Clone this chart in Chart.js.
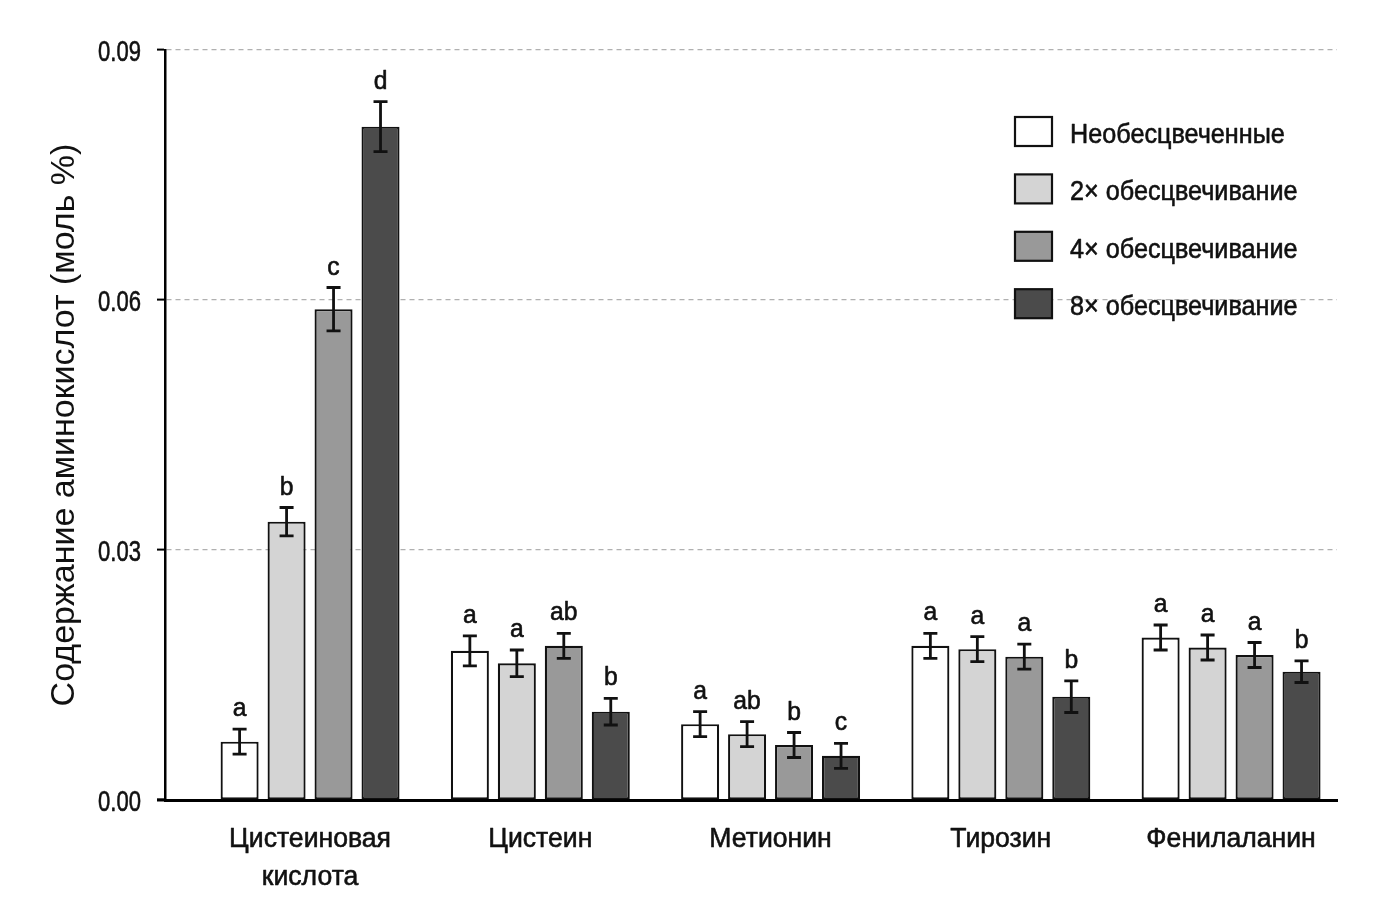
<!DOCTYPE html>
<html lang="ru">
<head>
<meta charset="utf-8">
<title>Содержание аминокислот</title>
<script src="https://cdn.jsdelivr.net/npm/chart.js@4.4.1/dist/chart.umd.min.js"></script>
<style>
html,body{margin:0;padding:0;background:#fff;}
#wrap{width:1394px;height:922px;position:relative;}
</style>
</head>
<body>
<div id="wrap"><canvas id="aminoChart"></canvas></div>
<script>
// категории и серии
const categories=[["Цистеиновая","кислота"],"Цистеин","Метионин","Тирозин","Фенилаланин"];
const seriesNames=["Необесцвеченные","2× обесцвечивание","4× обесцвечивание","8× обесцвечивание"];
const seriesColors=["#ffffff","#d4d4d4","#999999","#4b4b4b"];

const unbleached=[0.0070,0.0179,0.0091,0.0185,0.0195];
const bleach2x=[0.0334,0.0164,0.0079,0.0181,0.0183];
const bleach4x=[0.0589,0.0185,0.0066,0.0172,0.0174];
const bleach8x=[0.0808,0.0106,0.0053,0.0124,0.0154];

const errUnbleached=[0.0015,0.0018,0.0015,0.0015,0.0015];
const errBleach2x=[0.0017,0.0016,0.0015,0.0015,0.0015];
const errBleach4x=[0.0026,0.0015,0.0015,0.0015,0.0015];
const errBleach8x=[0.0030,0.0016,0.0015,0.0019,0.0013];

const lettersUnbleached=["a","a","a","a","a"];
const lettersBleach2x=["b","a","ab","a","a"];
const lettersBleach4x=["c","ab","b","a","a"];
const lettersBleach8x=["d","b","c","b","b"];

const yTicks=[0,0.03,0.06,0.09];

const seriesValues=[unbleached,bleach2x,bleach4x,bleach8x];
const seriesErrors=[errUnbleached,errBleach2x,errBleach4x,errBleach8x];
const seriesLetters=[lettersUnbleached,lettersBleach2x,lettersBleach4x,lettersBleach8x];

const family="'Liberation Sans',Arial,sans-serif";

// текст со сжатием по горизонтали (в оригинале узкий шрифт)
function narrowText(ctx,text,x,y,size,sx,align){
ctx.save();
ctx.translate(x,y);
ctx.scale(sx,1);
ctx.font=size+"px "+family;
ctx.textAlign=align;
ctx.textBaseline="alphabetic";
ctx.fillStyle="#111";
ctx.strokeStyle="#111";
ctx.lineWidth=0.6;
ctx.lineJoin="round";
ctx.fillText(text,0,0);
ctx.strokeText(text,0,0);
ctx.restore();
}

// усы и буквы над столбцами
const errorBars={
id:"errorBars",
afterDatasetsDraw(chart){
const ctx=chart.ctx;
const y=chart.scales.y;
ctx.save();
chart.data.datasets.forEach((ds,di)=>{
const meta=chart.getDatasetMeta(di);
meta.data.forEach((bar,i)=>{
const v=ds.data[i].y;
const e=seriesErrors[di][i];
const top=y.getPixelForValue(v+e);
const bot=y.getPixelForValue(v-e);
ctx.strokeStyle="#111";
ctx.lineWidth=2.8;
ctx.beginPath();
ctx.moveTo(bar.x,top);ctx.lineTo(bar.x,bot);
ctx.moveTo(bar.x-7,top);ctx.lineTo(bar.x+7,top);
ctx.moveTo(bar.x-7,bot);ctx.lineTo(bar.x+7,bot);
ctx.stroke();
narrowText(ctx,seriesLetters[di][i],bar.x,top-13,26,0.95,"center");
});
});
ctx.restore();
}
};

// подписи осей, легенда, продление оси X
const axisText={
id:"axisText",
afterDraw(chart){
const ctx=chart.ctx;
const area=chart.chartArea;
const xs=chart.scales.x, ys=chart.scales.y;
ctx.save();
ctx.strokeStyle="#000";
ctx.lineWidth=3;
ctx.beginPath();
ctx.moveTo(area.left-8,area.bottom);
ctx.lineTo(area.left,area.bottom);
ctx.stroke();

yTicks.forEach(v=>{
narrowText(ctx,v.toFixed(2),area.left-24,ys.getPixelForValue(v)+10.5,29,0.76,"right");
});

categories.forEach((c,i)=>{
const lines=Array.isArray(c)?c:[c];
const cx=xs.getPixelForValue(i);
lines.forEach((ln,k)=>{
narrowText(ctx,ln,cx,area.bottom+47+k*38,28,0.95,"center");
});
});

const x0=1015,y0=117,step=57.4;
seriesNames.forEach((name,i)=>{
const yy=y0+i*step;
ctx.fillStyle=seriesColors[i];
ctx.fillRect(x0,yy,37,29);
ctx.lineWidth=2.2;
ctx.strokeStyle="#111";
ctx.strokeRect(x0,yy,37,29);
narrowText(ctx,name,x0+55,yy+26,28,0.9,"left");
});
ctx.restore();
}
};

new Chart(document.getElementById("aminoChart"),{
type:"bar",
data:{
datasets:seriesValues.map((vals,di)=>({
label:seriesNames[di],
data:vals.map((v,i)=>({x:i,y:v})),
backgroundColor:seriesColors[di],
borderColor:"#111",
borderWidth:2.2,
borderSkipped:false,
categoryPercentage:0.816,
barPercentage:0.81
}))
},
options:{
responsive:true,
maintainAspectRatio:false,
animation:false,
layout:{padding:{left:0,top:50,right:57,bottom:0}},
plugins:{legend:{display:false},tooltip:{enabled:false}},
scales:{
x:{
type:"linear",
offset:false,
min:-0.63,
max:4.46,
afterBuildTicks(axis){axis.ticks=categories.map((c,i)=>({value:i}));},
afterFit(axis){axis.height=122;},
grid:{display:false},
border:{display:true,color:"#000",width:3},
ticks:{display:false}
},
y:{
min:0,
max:0.09,
afterBuildTicks(axis){axis.ticks=yTicks.map(v=>({value:v}));},
afterFit(axis){axis.width=165;},
grid:{color:"#b0b0b0",lineWidth:1.2,tickColor:"#000",tickLength:8,tickWidth:2},
border:{display:true,color:"#000",width:2.5,dash:[5,4]},
ticks:{display:false},
title:{
display:true,
text:"Содержание аминокислот (моль %)",
color:"#111",
font:{family:family,size:34},
padding:{top:44,bottom:0}
}
}
}
},
plugins:[errorBars,axisText]
});
</script>
</body>
</html>
